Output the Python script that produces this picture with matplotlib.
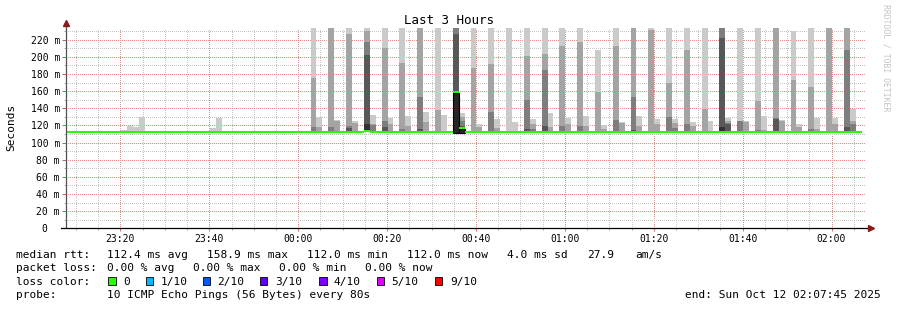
import numpy as np
import matplotlib
matplotlib.use("Agg")
import matplotlib.pyplot as plt
from matplotlib.patches import Rectangle
from matplotlib.ticker import MultipleLocator, FixedLocator, FixedFormatter

W, H = 897, 310
plt.rcParams["font.family"] = ["DejaVu Sans Mono", "DejaVu Sans"]

# time axis: minutes relative to 00:00 (window 23:07:45 .. 02:07:45)
t_start, t_end = -52.25, 127.75
step_min = 80 / 60
t_step0 = -51.9          # start of first 80 s step
last_step = 133
base_rtt = 112.0

time_ticks = [-40, -20, 0, 20, 40, 60, 80, 100, 120]
time_labels = ["23:20", "23:40", "00:00", "00:20", "00:40", "01:00", "01:20", "01:40", "02:00"]
rtt_ticks = [0, 20, 40, 60, 80, 100, 120, 140, 160, 180, 200, 220]
rtt_labels = ["0  ", "20 m", "40 m", "60 m", "80 m", "100 m", "120 m", "140 m",
              "160 m", "180 m", "200 m", "220 m"]

# smoke: steps with spread, and the top (ms) of each layer, outer -> inner
smoke_steps = [9, 10, 11, 12, 24, 25,
               41, 42, 44, 45, 47, 48, 50, 51, 53, 54, 56, 57, 59, 60,
               62, 63, 65, 66, 68, 69, 71, 72, 74, 75, 77, 78, 80, 81,
               83, 84, 86, 87, 89, 90, 92, 93, 95, 96, 98, 99, 101, 102,
               104, 105, 107, 108, 110, 111, 113, 114, 116, 117, 119, 120,
               122, 123, 125, 126, 128, 129, 131, 132]
top_l1 = [114.7, 119.4, 118.2, 130.2, 117.0, 128.7,
          240, 130.3, 240, 126.4, 240, 125.6, 240, 132.6, 240, 128.7, 240, 131.3, 240, 136.0,
          240, 132.6, 240, 134.2, 240, 121.7, 240, 127.6, 240, 123.7, 240, 127.6, 240, 134.2,
          240, 128.7, 240, 131.3, 208.4, 120.5, 240, 124.5, 240, 131.3, 240, 127.6, 240, 127.2,
          240, 124.4, 240, 124.8, 240, 128.7, 240, 124.8, 240, 131.3, 240, 126.4,
          229.7, 121.7, 240, 128.7, 240, 128.7, 240, 139.3]
top_l2 = [112, 112, 112, 112, 112, 112,
          175.5, 118.6, 240, 125.0, 226.2, 123.3, 230.2, 122.0, 210.7, 121.7, 193.1, 119.7, 240, 124.5,
          138.1, 113, 240, 129.6, 187.2, 118.6, 191.9, 116.9, 113, 112, 200.5, 121.7, 202.8, 118.6,
          213.0, 121.1, 217.3, 119.7, 158.8, 116.0, 213.0, 122.5, 240, 119.7, 230.9, 122.0, 169.3, 123.0,
          208.3, 119.0, 139.3, 113, 240, 124.8, 125.6, 124.0, 149.0, 114.7, 240, 125.6,
          173.2, 117.8, 165.4, 115.8, 240, 121.7, 240, 124.8]
top_l3 = [112, 112, 112, 112, 112, 112,
          118.6, 113, 118.6, 113, 119.7, 113, 217.3, 120.0, 125.6, 112, 115.8, 112, 153.7, 113.5,
          113, 112, 240, 125.0, 113, 112, 135.4, 114, 112, 112, 149.8, 115.8, 184.1, 112,
          119.4, 113, 119.7, 112, 113, 112, 126.4, 112, 153.7, 114, 113, 112, 130.0, 117,
          121.7, 112, 113, 112, 240, 122.5, 125.6, 113, 114.7, 112, 128.7, 112,
          113, 112, 115.8, 112, 113, 112, 208.4, 121.7]
top_l4 = [112, 112, 112, 112, 112, 112,
          113.5, 112, 113, 112, 117.0, 112, 201.6, 114.0, 118.6, 112, 113, 112, 115.8, 112,
          112, 112, 226.2, 119.7, 112, 112, 113, 112, 112, 112, 115.8, 112, 119.3, 112,
          113, 112, 113, 112, 112, 112, 113, 112, 114.7, 112, 112, 112, 113, 112,
          113, 112, 112, 112, 222.4, 122.0, 113, 112, 112, 112, 128.0, 112,
          112, 112, 112, 112, 112, 112, 118.6, 113]
top_l5 = [112, 112, 112, 112, 112, 112,
          112.5, 112, 112, 112, 113, 112, 121.7, 112, 113, 112, 112, 112, 113, 112,
          112, 112, 159.5, 117, 112, 112, 112, 112, 112, 112, 113, 112, 113, 112,
          112, 112, 112, 112, 112, 112, 112, 112, 112, 112, 112, 112, 112, 112,
          112, 112, 112, 112, 118, 113, 112, 112, 112, 112, 113, 112,
          112, 112, 112, 112, 112, 112, 113, 112]
smoke_colors = ["#cacaca", "#a4a4a4", "#7e7e7e", "#585858", "#323232"]

# median rtt per step (only deviations listed)
median_steps = [50, 65, 66]
median_vals = [114.0, 159.0, 116.7]
outline_steps = [65, 66]

loss_labels = ["0", "1/10", "2/10", "3/10", "4/10", "5/10", "9/10"]
loss_colors = ["#26ff00", "#00b8ff", "#0059ff", "#5e00ff", "#7e00ff", "#dd00ff", "#ff0000"]

fig = plt.figure(figsize=(W / 100, H / 100), dpi=100)
ax = fig.add_axes([66 / W, 1 - 228.3 / H, 800 / W, 200 / H])


def step_x(k):
    return t_step0 + np.asarray(k) * step_min


# smoke layers
sx = step_x(smoke_steps)
for top, col in zip([top_l1, top_l2, top_l3, top_l4, top_l5], smoke_colors):
    top = np.asarray(top, dtype=float)
    ax.bar(sx, top - base_rtt, bottom=base_rtt, width=step_min, align="edge",
           color=col, linewidth=0, antialiased=False, zorder=1)

# median band
all_steps = np.arange(-1, last_step + 1)
med = np.full(all_steps.shape, base_rtt)
for k, v in zip(median_steps, median_vals):
    med[all_steps == k] = v
band = 1.2
ol = np.isin(all_steps, outline_steps)
ax.bar(step_x(all_steps[ol]), med[ol] - base_rtt, bottom=base_rtt - band,
       width=step_min, align="edge", facecolor="#262626", edgecolor="black",
       linewidth=0.8, zorder=3)
ax.bar(step_x(all_steps), 2 * band, bottom=med - band, width=step_min, align="edge",
       color="#26ff00", linewidth=0, antialiased=False, zorder=4)

ax.set_xlim(t_start, t_end)
ax.set_ylim(0, 233.3)

ax.xaxis.set_major_locator(FixedLocator(time_ticks))
ax.xaxis.set_major_formatter(FixedFormatter(time_labels))
ax.xaxis.set_minor_locator(MultipleLocator(5))
ax.yaxis.set_major_locator(FixedLocator(rtt_ticks))
ax.yaxis.set_major_formatter(FixedFormatter(rtt_labels))
ax.yaxis.set_minor_locator(MultipleLocator(10))

ax.grid(which="minor", color="#c4c4c4", linestyle=(0, (1, 2)), linewidth=0.72)
ax.grid(which="major", color="#e79090", linestyle=(0, (1, 2)), linewidth=0.72)
ax.set_axisbelow(True)
for gl in (ax.xaxis.get_gridlines() + ax.yaxis.get_gridlines()
           + [t.gridline for t in ax.xaxis.get_minor_ticks()]
           + [t.gridline for t in ax.yaxis.get_minor_ticks()]):
    gl.set_antialiased(False)

ax.tick_params(axis="x", which="major", length=2.5, width=0.72, color="#e07070",
               pad=1.5, labelsize=7)
ax.tick_params(axis="x", which="minor", length=1.5, width=0.72, color="#aaaaaa")
ax.tick_params(axis="y", which="major", length=2.8, width=0.72, color="#808080",
               pad=1.6, labelsize=7)
ax.tick_params(axis="y", which="minor", length=1.5, width=0.72, color="#aaaaaa")

for s in ax.spines.values():
    s.set_visible(False)
ax.plot([0, 0], [0, 1.02], transform=ax.transAxes, color="#505050", lw=0.9,
        clip_on=False, zorder=6)
ax.plot([-0.006, 1.005], [0, 0], transform=ax.transAxes, color="black", lw=0.9,
        clip_on=False, zorder=6)
ax.plot([0], [1.028], marker="^", ms=4, color="#8b1a1a", transform=ax.transAxes,
        clip_on=False, zorder=7)
ax.plot([1.0065], [0], marker=">", ms=4, color="#8b1a1a", transform=ax.transAxes,
        clip_on=False, zorder=7)


def fx(x):
    return x / W


def fy(y):
    return 1 - y / H


fig.text(0.5, fy(24), "Last 3 Hours", ha="center", va="baseline", fontsize=9)
fig.text(fx(11), fy(127.5), "Seconds", rotation=90, ha="center", va="center", fontsize=8)
fig.text(fx(886), fy(4), "RRDTOOL / TOBI OETIKER", rotation=270, ha="center", va="top",
         fontsize=5.9, color="#c4c4c4")

fs = 8
rows = [
    (258.0, [(16, "median rtt:"), (107.3, "112.4 ms avg"), (207.3, "158.9 ms max"),
             (307.3, "112.0 ms min"), (407.3, "112.0 ms now"), (506.7, "4.0 ms sd"),
             (586.7, "27.9"), (635, "am/s")]),
    (271.3, [(16, "packet loss:"), (107.3, "0.00 % avg"), (193.3, "0.00 % max"),
             (279.3, "0.00 % min"), (365.3, "0.00 % now")]),
    (284.7, [(16, "loss color:")]),
    (298.0, [(16, "probe:"), (107.3, "10 ICMP Echo Pings (56 Bytes) every 80s")]),
]
for yb, segs in rows:
    for x, s in segs:
        fig.text(fx(x), fy(yb), s, ha="left", va="baseline", fontsize=fs)

box_x = [108.3, 146, 202.7, 260, 319.3, 376.7, 435]
lab_x = [123.3, 160.7, 217.3, 275, 333.3, 391.7, 450]
for bx, lx, lab, col in zip(box_x, lab_x, loss_labels, loss_colors):
    fig.patches.append(Rectangle((fx(bx), fy(284.7)), 7.3 / W, 7.3 / H,
                                 transform=fig.transFigure, facecolor=col,
                                 edgecolor="black", linewidth=0.6))
    fig.text(fx(lx), fy(284.7), lab, ha="left", va="baseline", fontsize=fs)

fig.text(fx(880.7), fy(298.0), "end: Sun Oct 12 02:07:45 2025", ha="right",
         va="baseline", fontsize=fs)

fig.savefig("out.png", dpi=100)
